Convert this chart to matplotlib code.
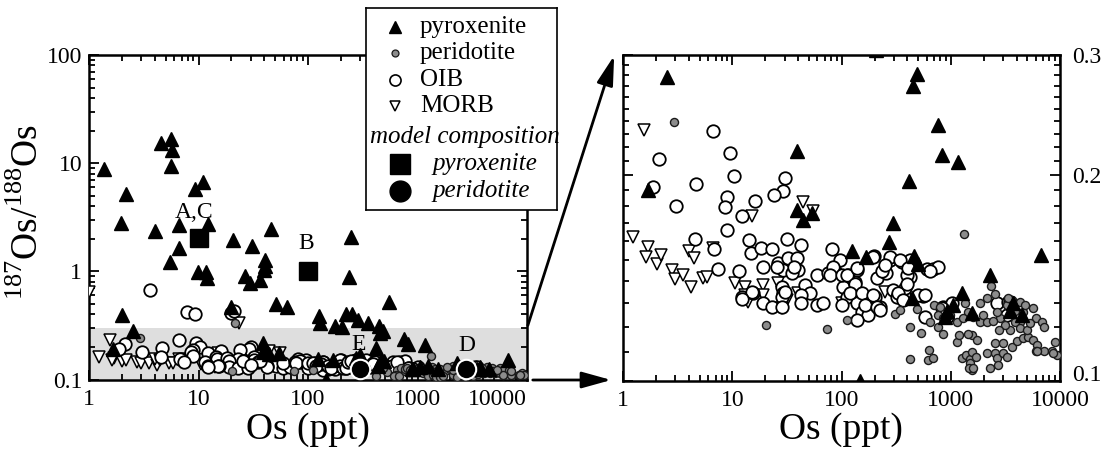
import numpy as np
import matplotlib
matplotlib.use('Agg')
import matplotlib.pyplot as plt
from matplotlib.ticker import FixedLocator, NullFormatter, LogLocator
from matplotlib.patches import FancyArrowPatch

plt.rcParams['font.family'] = ['Liberation Serif', 'DejaVu Serif']
plt.rcParams['mathtext.fontset'] = 'custom'
plt.rcParams['mathtext.rm'] = 'Liberation Serif'

#pyroxenite samples (Os ppt, 187Os/188Os)
pyx_os = [1.36, 4.57, 5.65, 5.77, 5.56, 9.23, 11.1, 2.2, 1.98, 4.0, 6.57, 12.3, 6.67, 5.48,
          9.93, 11.7, 11.9, 20.8, 30.5, 46, 26.4, 29.8, 36.5, 40.2, 40.2, 39.3, 50.6, 63.8,
          126, 128, 176, 205, 235, 249, 223, 253, 288, 352, 444, 544, 2.02, 20,
          2.5, 1.67, 38.9, 38.9, 43.8, 54, 488, 455, 759, 826, 1172, 418, 298, 274, 124,
          167.5, 464, 498, 2287, 6653, 146, 439, 918, 1055, 1260, 1555, 3740, 3484, 4460, 886]
pyx_ratio = [8.87, 15.3, 16.7, 13.1, 9.5, 5.8, 6.7, 5.2, 2.8, 2.35, 2.67, 2.76, 1.63, 1.23,
             0.99, 0.99, 0.86, 1.94, 1.71, 2.44, 0.91, 0.776, 0.83, 1.27, 1.12, 1.03, 0.5, 0.473,
             0.383, 0.332, 0.314, 0.305, 0.893, 2.08, 0.405, 0.405, 0.356, 0.332, 0.314, 0.526, 0.396, 0.47,
             0.279, 0.190, 0.217, 0.178, 0.172, 0.176, 0.281, 0.270, 0.237, 0.214, 0.209, 0.196, 0.170, 0.1596, 0.155,
             0.1517, 0.1525, 0.148, 0.143, 0.153, 0.1, 0.132, 0.1263, 0.1292, 0.1345, 0.1257, 0.130, 0.1263, 0.125, 0.124]

#peridotite samples
per_os = [2.91, 21.5, 1318, 2328, 2128, 2535, 111, 308, 342, 422, 532, 422, 486, 644, 634, 614, 681,
          700, 767, 841, 767, 1130, 1186, 1256, 1375, 1495, 1550, 1495, 1550, 1550, 1722, 1346, 1443,
          1603, 1846, 1980, 2128, 2535, 2535, 2628, 3020, 3020, 3243, 3604, 4008, 4549, 5116, 5688,
          6109, 6012, 7123, 8490, 8980, 9310, 5688, 6012, 6780, 7123, 4603, 4295, 3863, 3475, 3127,
          2818, 2775, 2628, 3243, 3604, 4295, 4774, 4295, 4943, 3313, 794, 851, 982, 1130, 1300, 2128,
          1846, 1427, 20.1, 73.8, 1480, 1600, 8670, 6100, 1700, 2300, 2700, 3900, 5300, 2450]
per_ratio = [0.2395, 0.335, 0.1638, 0.1377, 0.132, 0.1338, 0.1226, 0.1251, 0.127, 0.12, 0.1174, 0.1076,
             0.1273, 0.1218, 0.111, 0.1072, 0.108, 0.129, 0.12, 0.117, 0.125, 0.114, 0.1167, 0.1079,
             0.109, 0.1076, 0.1103, 0.106, 0.1037, 0.1167, 0.1147, 0.1298, 0.1262, 0.124, 0.122, 0.1249,
             0.1097, 0.1134, 0.1097, 0.1079, 0.1134, 0.1097, 0.1084, 0.1122, 0.1143, 0.1153, 0.116,
             0.1147, 0.1128, 0.1105, 0.1105, 0.1105, 0.1138, 0.109, 0.128, 0.1234, 0.122, 0.12, 0.1262,
             0.122, 0.122, 0.1187, 0.1206, 0.1234, 0.1187, 0.1262, 0.129, 0.1313, 0.1305, 0.129, 0.1193,
             0.1187, 0.132, 0.1284, 0.1234, 0.1249, 0.122, 0.1234, 0.122, 0.1298, 0.117, 0.1207, 0.119,
             0.1045, 0.1045, 0.1097, 0.1105, 0.1085, 0.1045, 0.1055, 0.1265, 0.1215, 0.1225]

#OIB samples
oib_os = [6.67, 9.49, 2.12, 10.3, 30.3, 1.88, 4.63, 28.8, 24, 8.96, 8.54, 3.04, 16.1, 12.3, 8.96, 4.56,
          14.3, 31.8, 42.4, 14.7, 18.2, 22.8, 6.81, 7.41, 11.5, 19.1, 26.3, 29.2, 32.4, 38.7, 40.1, 34.8,
          46.1, 51.3, 42.4, 42.2, 28.2, 29.2, 28.2, 18.9, 22.8, 28.2, 12.1, 15.5, 59, 67.9, 59, 81, 96.4,
          86.9, 75.4, 103, 132, 115, 137, 111, 137, 152, 175, 137, 202, 224, 209, 199, 255, 277, 277, 355,
          297, 319, 380, 380, 559, 600, 690, 767, 422, 422, 579, 841, 1016, 2628, 3357, 916,
          25.4, 36.6, 15, 12.1, 30.3, 83.8, 78.1, 100, 100, 111, 137, 195, 132, 119, 152, 195, 163, 209,
          224, 232, 249, 342, 394, 407, 330, 366, 394, 503, 579, 644, 824, 3475, 3243,
          3.6, 7.9, 9.2, 19.6, 21.2]
oib_ratio = [0.2324, 0.2158, 0.2113, 0.1995, 0.1983, 0.1924, 0.194, 0.1898, 0.1871, 0.186, 0.1799, 0.1803,
             0.1835, 0.174, 0.1663, 0.1612, 0.161, 0.1612, 0.158, 0.154, 0.1566, 0.1558, 0.1558, 0.1458,
             0.145, 0.1469, 0.1486, 0.1453, 0.1511, 0.1511, 0.1453, 0.1437, 0.138, 0.1343, 0.1336, 0.1298,
             0.1373, 0.1343, 0.1328, 0.1298, 0.1283, 0.1283, 0.1328, 0.1343, 0.129, 0.1298, 0.1429, 0.1558,
             0.15, 0.145, 0.1437, 0.1373, 0.1396, 0.1429, 0.1453, 0.1328, 0.1298, 0.1262, 0.1249, 0.1227,
             0.1328, 0.1283, 0.1413, 0.1523, 0.1437, 0.15, 0.1517, 0.1494, 0.1358, 0.1328, 0.1328, 0.1366,
             0.133, 0.1456, 0.146, 0.1469, 0.15, 0.142, 0.124, 0.1283, 0.1298, 0.1298, 0.1305, 0.124,
             0.1469, 0.1469, 0.1347, 0.1316, 0.135, 0.1469, 0.1429, 0.129, 0.1429, 0.1429, 0.1462, 0.152,
             0.1384, 0.1343, 0.1343, 0.1336, 0.129, 0.1283, 0.127, 0.1446, 0.1477, 0.15, 0.1429, 0.1462,
             0.1343, 0.1313, 0.1384, 0.1336, 0.1336, 0.1446, 0.1276, 0.1305, 0.1249,
             0.675, 0.425, 0.405, 0.41, 0.43]

#MORB samples
morb_os = [1.56, 1.24, 1.69, 1.61, 2.02, 2.2, 2.77, 2.97, 3.54, 4.17, 4.0, 4.44, 5.4, 5.8, 6.67, 15,
           10.6, 13.0, 13.0, 14.0, 18.9, 18.9, 26.3, 28.6, 31.4, 28.2, 40.1, 44.5, 55, 249, 100, 1.0, 23.5]
morb_ratio = [0.2329, 0.1625, 0.157, 0.152, 0.1483, 0.1528, 0.1453, 0.1408, 0.1429, 0.1373, 0.155, 0.1511,
              0.1413, 0.142, 0.1563, 0.1745, 0.1389, 0.1373, 0.1336, 0.1306, 0.138, 0.1336, 0.1389, 0.1347,
              0.1313, 0.1276, 0.1343, 0.183, 0.1774, 0.1347, 0.1298, 0.64, 0.33]

#model compositions
model_pyx_os = [10, 100]
model_pyx_ratio = [2.05, 1.01]
model_per_os = [300, 2800]
model_per_ratio = [0.124, 0.124]
model_labels = ['A,C', 'B', 'E', 'D']
label_os = [9.2, 96, 290, 2820]
label_ratio = [3.5, 1.8, 0.21, 0.207]


def draw_points(ax):
    ax.plot(morb_os, morb_ratio, linestyle='none', marker='v', ms=8, mfc='white', mec='black', mew=1.1, zorder=3)
    ax.plot(oib_os, oib_ratio, linestyle='none', marker='o', ms=9, mfc='white', mec='black', mew=1.3, zorder=4)
    ax.plot(per_os, per_ratio, linestyle='none', marker='o', ms=5.8, mfc='#8c8c8c', mec='#1a1a1a', mew=1.0, zorder=5)
    ax.plot(pyx_os, pyx_ratio, linestyle='none', marker='^', ms=9.5, color='black', zorder=6)


def style_axes(ax):
    for s in ax.spines.values():
        s.set_linewidth(1.8)
    ax.tick_params(which='both', direction='in', top=True, right=True, width=1.3, labelsize=17)
    ax.tick_params(which='major', length=7, pad=5)
    ax.tick_params(which='minor', length=4)
    ax.tick_params(axis='x', which='major', pad=7)


fig = plt.figure(figsize=(11.06, 4.51), dpi=100)

#left panel - full range
ax1 = fig.add_axes([89 / 1106, 1 - 379.5 / 451, 438 / 1106, 324.5 / 451])
ax1.set_xscale('log')
ax1.set_yscale('log')
ax1.axhspan(0.1, 0.3, color='#dedede', zorder=0, lw=0)
draw_points(ax1)
ax1.plot(model_pyx_os, model_pyx_ratio, linestyle='none', marker='s', ms=13, color='black', zorder=7)
ax1.plot(model_per_os, model_per_ratio, linestyle='none', marker='o', ms=14, mfc='black', mec='white', mew=1.5, zorder=7)
for lab, x, y in zip(model_labels, label_os, label_ratio):
    ax1.text(x, y, lab, fontsize=17, ha='center', va='center', zorder=8)
ax1.set_xlim(1, 10000)
ax1.set_ylim(0.1, 100)
ax1.set_xticks([1, 10, 100, 1000, 10000])
ax1.set_xticklabels(['1', '10', '100', '1000', '10000'])
ax1.set_yticks([0.1, 1, 10, 100])
ax1.set_yticklabels(['0.1', '1', '10', '100'])
ax1.xaxis.set_minor_locator(LogLocator(base=10, subs=np.arange(2, 10)))
ax1.yaxis.set_minor_locator(LogLocator(base=10, subs=np.arange(2, 10)))
ax1.xaxis.set_minor_formatter(NullFormatter())
ax1.yaxis.set_minor_formatter(NullFormatter())
style_axes(ax1)
ax1.xaxis.get_major_ticks()[-1].label1.set_horizontalalignment('right')

#right panel - zoom of the 0.1-0.3 band
ax2 = fig.add_axes([623.3 / 1106, 1 - 380.7 / 451, 436.7 / 1106, 325.7 / 451])
ax2.set_xscale('log')
ax2.set_yscale('log')
draw_points(ax2)
ax2.set_xlim(1, 10000)
ax2.set_ylim(0.1, 0.3)
ax2.set_xticks([1, 10, 100, 1000, 10000])
ax2.set_xticklabels(['1', '10', '100', '1000', '10000'])
ax2.xaxis.set_minor_locator(LogLocator(base=10, subs=np.arange(2, 10)))
ax2.xaxis.set_minor_formatter(NullFormatter())
ax2.yaxis.set_major_locator(FixedLocator([0.1, 0.2, 0.3]))
ax2.set_yticklabels(['0.1', '0.2', '0.3'])
ax2.yaxis.set_minor_locator(FixedLocator([v / 100 for v in range(11, 30) if v != 20]))
ax2.yaxis.set_minor_formatter(NullFormatter())
style_axes(ax2)
ax2.tick_params(axis='y', which='both', labelleft=False, labelright=True, left=True, right=True)
ax2.tick_params(axis='y', which='major', pad=9)
ax2.yaxis.get_major_ticks()[0].label2.set_verticalalignment('baseline')

#axis labels
fig.text(28 / 1106, 0.53, '$^{187}$Os/$^{188}$Os', rotation=90, fontsize=27, ha='center', va='center')
fig.text(308 / 1106, 1 - 430 / 451, 'Os (ppt)', fontsize=27, ha='center', va='center')
fig.text(841 / 1106, 1 - 430 / 451, 'Os (ppt)', fontsize=27, ha='center', va='center')

#zoom arrows
arr1 = FancyArrowPatch((527 / 1106, 1 - 328 / 451), (615 / 1106, 1 - 53 / 451), transform=fig.transFigure,
                       arrowstyle='-|>,head_length=0.9,head_width=0.25', mutation_scale=20, lw=2, color='black')
arr2 = FancyArrowPatch((530 / 1106, 1 - 380 / 451), (614 / 1106, 1 - 380 / 451), transform=fig.transFigure,
                       arrowstyle='-|>,head_length=0.9,head_width=0.25', mutation_scale=20, lw=2, color='black')
fig.patches.extend([arr1, arr2])

#legend box
lax = fig.add_axes([366 / 1106, 1 - 210 / 451, 191 / 1106, 202 / 451])
lax.set_zorder(10)
lax.set_xlim(0, 1)
lax.set_ylim(0, 1)
lax.set_xticks([])
lax.set_yticks([])
for s in lax.spines.values():
    s.set_linewidth(1.2)
ys = [0.906, 0.777, 0.644, 0.515]
lax.plot([0.152], [ys[0]], marker='^', ms=8, color='black', linestyle='none')
lax.plot([0.152], [ys[1]], marker='o', ms=5, mfc='#8c8c8c', mec='#1a1a1a', mew=0.9, linestyle='none')
lax.plot([0.152], [ys[2]], marker='o', ms=8, mfc='white', mec='black', mew=1.2, linestyle='none')
lax.plot([0.152], [ys[3]], marker='v', ms=7, mfc='white', mec='black', mew=1.1, linestyle='none')
for y, t in zip(ys, ['pyroxenite', 'peridotite', 'OIB', 'MORB']):
    lax.text(0.283, y, t, fontsize=18, va='center', ha='left')
lax.text(0.02, 0.361, 'model composition', fontsize=18, style='italic', va='center', ha='left')
lax.plot([0.178], [0.228], marker='s', ms=14, color='black', linestyle='none')
lax.plot([0.178], [0.094], marker='o', ms=15, color='black', linestyle='none')
lax.text(0.346, 0.228, 'pyroxenite', fontsize=18, style='italic', va='center', ha='left')
lax.text(0.346, 0.094, 'peridotite', fontsize=18, style='italic', va='center', ha='left')

fig.savefig('out.png', dpi=100)
